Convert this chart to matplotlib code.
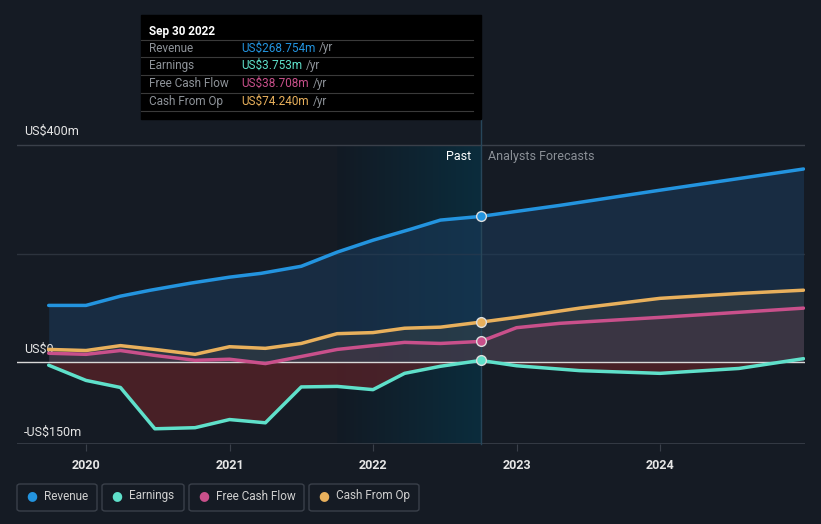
import numpy as np
import matplotlib
matplotlib.use("Agg")
from matplotlib import pyplot as plt
from matplotlib.patches import FancyBboxPatch, Rectangle
from matplotlib.colors import LinearSegmentedColormap

plt.rcParams['font.family'] = ['Roboto', 'DejaVu Sans']

# data (US$m, decimal years)
rev_x = [2019.74, 2020.0, 2020.24, 2020.45, 2020.73, 2021.0, 2021.22, 2021.5, 2021.75, 2022.0, 2022.26, 2022.47, 2022.75,
         2023.0, 2023.3, 2024.0, 2025.0]
rev_y = [105, 105, 122, 133, 146, 157, 164, 177, 203, 225, 245, 262, 268.754, 278, 289, 317, 356]

earn_x = [2019.74, 2020.0, 2020.24, 2020.48, 2020.76, 2021.0, 2021.25, 2021.5, 2021.75, 2022.0, 2022.22, 2022.47, 2022.75,
          2023.0, 2023.44, 2024.0, 2024.55, 2025.0]
earn_y = [-5, -33, -46, -122, -120, -105, -111, -45, -44, -50, -20, -7, 3.753, -6, -15, -20, -11, 7]

fcf_x = [2019.74, 2020.0, 2020.24, 2020.48, 2020.76, 2021.0, 2021.25, 2021.5, 2021.75, 2022.0, 2022.22, 2022.47, 2022.75,
         2023.0, 2023.3, 2024.0, 2025.0]
fcf_y = [17, 15, 22, 13, 4, 6, -2, 11, 24, 31, 37, 35, 38.708, 64, 72, 83, 100]

cfo_x = [2019.74, 2020.0, 2020.24, 2020.48, 2020.76, 2021.0, 2021.25, 2021.5, 2021.75, 2022.0, 2022.22, 2022.47, 2022.75,
         2023.0, 2023.44, 2024.0, 2024.55, 2025.0]
cfo_y = [24, 22, 31, 24, 15, 29, 26, 35, 53, 55, 63, 65, 74.24, 83, 100, 118, 127, 133]

years = [2020, 2021, 2022, 2023, 2024]
past_end = 2022.75

bg = '#151b24'
c_rev = '#2394df'
c_earn = '#5fe0ca'
c_fcf = '#c9508b'
c_cfo = '#e8b05c'

fig = plt.figure(figsize=(8.21, 5.24), dpi=100, facecolor=bg)
W, H = 821, 524
x0, x1 = 17, 805
ytop, ybot = 100, 444
ax = fig.add_axes([x0 / W, 1 - ybot / H, (x1 - x0) / W, (ybot - ytop) / H])
ax.set_facecolor(bg)
ppy = 143.5
ax.set_xlim(2020 - 69 / ppy, 2020 + (x1 - 86) / ppy)
ppm = 0.5425
ax.set_ylim(-150, (362 - ytop) / ppm)
for s in ax.spines.values():
    s.set_visible(False)

# highlight band before the forecast line
cmap = LinearSegmentedColormap.from_list('band', ['#121a24', '#0b2c3c'])
grad = np.linspace(0, 1, 100).reshape(1, -1)
ax.imshow(grad, extent=[2021.75, past_end, -150, 400], aspect='auto', cmap=cmap, zorder=0.5)

ax.axhline(400, color='#3a404a', lw=1, zorder=1)
ax.axhline(200, color='#2c333d', lw=1, zorder=1)
ax.axhline(-150, color='#3a404a', lw=1.2, zorder=1)

# fills
ax.fill_between(rev_x, rev_y, 0, color='#1b3b5c', alpha=0.55, zorder=2, lw=0)
ax.fill_between(cfo_x, cfo_y, 0, color='#4a4a44', alpha=0.35, zorder=2, lw=0)
ax.fill_between(fcf_x, fcf_y, 0, color='#5a3446', alpha=0.35, zorder=2, lw=0)
ax.fill_between(earn_x, earn_y, 0, where=np.array(earn_y) < 0.5, interpolate=True,
                color='#5a2228', alpha=0.75, zorder=2, lw=0)

ax.axhline(0, color='#d8d8d8', lw=1, zorder=3)

ax.plot(rev_x, rev_y, color=c_rev, lw=2.5, zorder=4, solid_capstyle='round')
ax.plot(earn_x, earn_y, color=c_earn, lw=2.5, zorder=4, solid_capstyle='round')
ax.plot(fcf_x, fcf_y, color=c_fcf, lw=2.5, zorder=4, solid_capstyle='round')
ax.plot(cfo_x, cfo_y, color=c_cfo, lw=2.5, zorder=4, solid_capstyle='round')

ax.plot([past_end, past_end], [-150, (362 - 119) / ppm], color='#27465a', lw=1, zorder=3, clip_on=False)
for yv, c in [(rev_y[12], c_rev), (earn_y[12], c_earn), (fcf_y[12], c_fcf), (cfo_y[12], c_cfo)]:
    ax.plot(past_end, yv, 'o', ms=7, mfc=c, mec='#dddddd', mew=1, zorder=5)

ax.set_xticks(years)
ax.set_xticklabels([str(y) for y in years], color='#e6e6e6', fontsize=9, fontweight='bold')
ax.tick_params(axis='x', length=5, color='#3a404a', pad=6)
ax.set_yticks([])

ax.text(2020 - 62 / ppy, 400 + 14 / ppm, 'US$400m', color='#e6e6e6', fontsize=9, va='center')
ax.text(2020 - 62 / ppy, 13 / ppm, 'US$0', color='#e6e6e6', fontsize=9, va='center')
ax.text(2020 - 62 / ppy, -150 + 12 / ppm, '-US$150m', color='#e6e6e6', fontsize=9, va='center')
ax.text(past_end - 9 / ppy, (362 - 156) / ppm, 'Past', color='#ffffff', fontsize=9, ha='right', va='center')
ax.text(past_end + 7 / ppy, (362 - 156) / ppm, 'Analysts Forecasts', color='#8a8f96', fontsize=9, ha='left', va='center')

# tooltip
fig.patches.append(Rectangle((141 / W, 1 - 119 / H), 340 / W, 104 / H, transform=fig.transFigure,
                             color='#000000', zorder=10))
fig.text(149 / W, 1 - 31 / H, 'Sep 30 2022', color='#ffffff', fontsize=8.5, fontweight='bold', va='center', zorder=11)
rows = [('Revenue', 'US$268.754m', c_rev), ('Earnings', 'US$3.753m', c_earn),
        ('Free Cash Flow', 'US$38.708m', c_fcf), ('Cash From Op', 'US$74.240m', c_cfo)]
fig.canvas.draw()
for i, (lab, val, c) in enumerate(rows):
    yy = 48 + i * 17.7
    fig.text(149 / W, 1 - yy / H, lab, color='#8e9399', fontsize=8.5, va='center', zorder=11)
    t = fig.text(241 / W, 1 - yy / H, val, color=c, fontsize=8.5, va='center', zorder=11)
    bb = t.get_window_extent(renderer=fig.canvas.get_renderer())
    fig.text((bb.x1 + 4) / W, 1 - yy / H, '/yr', color='#8e9399', fontsize=8.5, va='center', zorder=11)
for yy in [40, 57, 75, 93, 111]:
    fig.lines.append(plt.Line2D([141 / W, 473 / W], [1 - yy / H, 1 - yy / H], transform=fig.transFigure,
                                color='#3a3a3a', lw=0.8, zorder=11))

# legend
leg = [('Revenue', c_rev, 17, 97), ('Earnings', c_earn, 102, 184),
       ('Free Cash Flow', c_fcf, 189, 304), ('Cash From Op', c_cfo, 309, 419)]
for lab, c, lx0, lx1 in leg:
    fig.patches.append(FancyBboxPatch((lx0 / W, 1 - 511 / H), (lx1 - lx0) / W, 27 / H,
                                      boxstyle='round,pad=0,rounding_size=0.004', transform=fig.transFigure,
                                      fc='none', ec='#3a404a', lw=1))
    fig.text((lx0 + 15) / W, 1 - 496 / H, '●', color=c, fontsize=9, va='center', ha='center')
    fig.text((lx0 + 27) / W, 1 - 496 / H, lab, color='#d0d0d0', fontsize=8.5, va='center')

fig.savefig('out.png', dpi=100, facecolor=bg)
